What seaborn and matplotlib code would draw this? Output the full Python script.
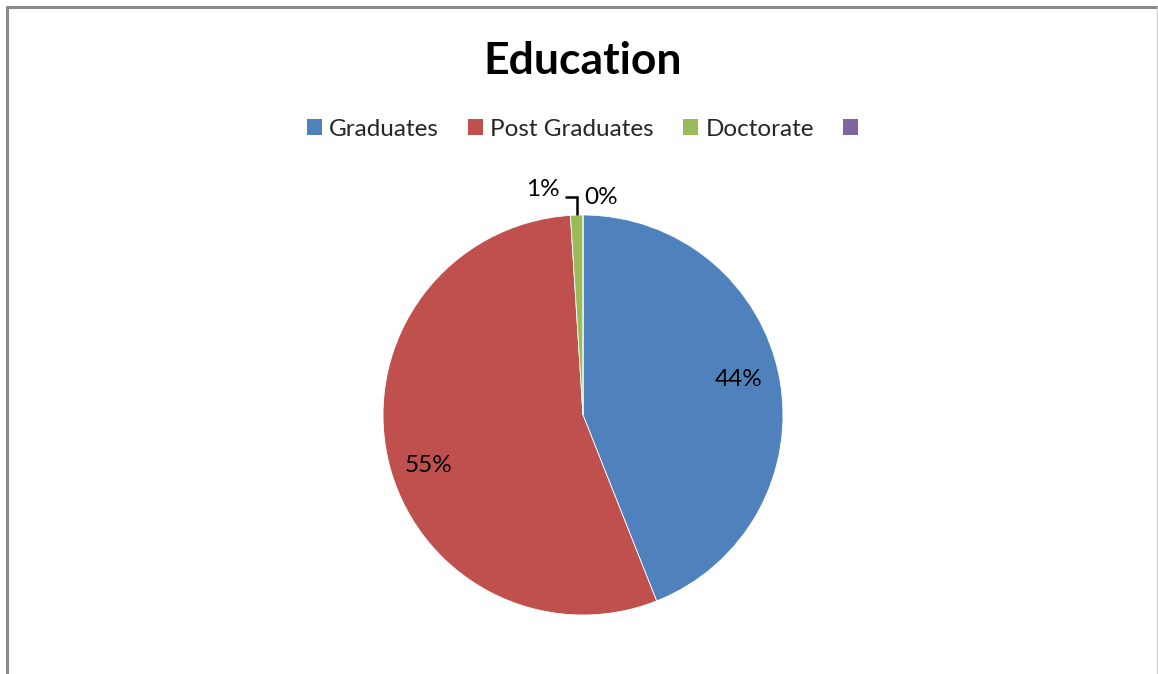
import numpy as np
import matplotlib
matplotlib.use("Agg")
import matplotlib.pyplot as plt
from matplotlib.lines import Line2D
from matplotlib.patches import Patch
import seaborn as sns

# Education breakdown (percent of respondents)
categories = ["Graduates", "Post Graduates", "Doctorate", ""]
shares = [44, 55, 1, 0]
pct_labels = ["44%", "55%", "1%", "0%"]
title = "Education"

sns.set_theme(style="white")
plt.rcParams["font.family"] = ["Lato", "DejaVu Sans"]

palette = sns.color_palette(["#4F81BD", "#C0504D", "#9BBB59", "#8064A2"])

fig = plt.figure(figsize=(11.58, 6.74), dpi=100)
fig.patch.set_facecolor("white")
W, H = 1158, 674

# pie axes: centre (583, 415) px, radius 200 px
cx, cy, r = 583, 415, 200
ax = fig.add_axes([(cx - r) / W, (H - cy - r) / H, 2 * r / W, 2 * r / H])
wedges, _ = ax.pie(shares, colors=palette, startangle=90, counterclock=False,
                   radius=1.0, wedgeprops=dict(linewidth=0.6, edgecolor="white"))
ax.set_xlim(-1, 1)
ax.set_ylim(-1, 1)
ax.set_axis_off()

# percentage labels inside the two large slices
bounds = np.concatenate([[0], np.cumsum(shares)]) / np.sum(shares) * 360.0
label_fs = 17.5
for i, dist, dx, dy in [(0, 0.79, 0.0, 0.03), (1, 0.79, 0.0, -0.08)]:
    mid = 90 - (bounds[i] + bounds[i + 1]) / 2
    th = np.deg2rad(mid)
    ax.text(dist * np.cos(th) + dx, dist * np.sin(th) + dy,
            pct_labels[i], ha="center", va="center", fontsize=label_fs, color="black")

# small slices: labels outside with a leader line to the doctorate slice
mid_doc = 90 - (bounds[2] + bounds[3]) / 2
xdoc = np.cos(np.deg2rad(mid_doc))
ax.text(-0.2, 1.125, pct_labels[2], ha="center", va="center", fontsize=label_fs,
        color="black", clip_on=False)
ax.text(0.09, 1.09, pct_labels[3], ha="center", va="center", fontsize=label_fs,
        color="black", clip_on=False)
ax.plot([-0.09, xdoc, xdoc], [1.09, 1.09, 1.0], color="black", lw=1.8,
        clip_on=False, solid_capstyle="butt", solid_joinstyle="miter")

# title and legend
fig.text(583 / W, 1 - 61 / H, title, ha="center", va="center",
         fontsize=32, fontweight="bold", color="black")
handles = [Patch(facecolor=c, edgecolor="none") for c in palette]
fig.legend(handles, categories, loc="center", bbox_to_anchor=(586 / W, 1 - 129 / H),
           ncol=4, frameon=False, fontsize=17.5, handlelength=0.62, handleheight=0.62,
           handletextpad=0.3, columnspacing=1.2)

# chart frame
fig.add_artist(Line2D([6.5 / W, 1], [1 - 6.5 / H, 1 - 6.5 / H], color="#8a8a8a", lw=2.2))
fig.add_artist(Line2D([6.5 / W, 6.5 / W], [0, 1 - 6.5 / H], color="#8a8a8a", lw=2.2))
fig.add_artist(Line2D([1157 / W, 1157 / W], [0, 1 - 6.5 / H], color="#d0d0d0", lw=1.0))

fig.savefig("out.png", dpi=100, facecolor="white")
